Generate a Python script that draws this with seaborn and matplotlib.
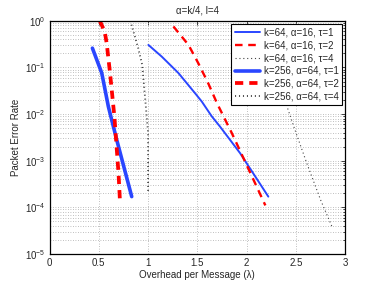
import matplotlib
matplotlib.use("Agg")
import matplotlib.pyplot as plt
import seaborn as sns
import numpy as np

sns.set_style("white")
plt.rcParams['font.family'] = ['Liberation Sans', 'DejaVu Sans']
plt.rcParams['mathtext.fontset'] = 'custom'
plt.rcParams['mathtext.rm'] = 'Liberation Sans'

labels = ["k=64, α=16, τ=1", "k=64, α=16, τ=2", "k=64, α=16, τ=4",
          "k=256, α=64, τ=1", "k=256, α=64, τ=2", "k=256, α=64, τ=4"]

# k=64 series
x64_t1 = [1.003, 1.139, 1.308, 1.477, 1.545, 1.647, 1.73, 1.934, 2.22]
y64_t1 = [3.05e-1, 1.71e-1, 7.6e-2, 2.8e-2, 1.86e-2, 8.9e-3, 5.4e-3, 1.45e-3, 1.7e-4]
x64_t2 = [1.257, 1.41, 1.51, 1.61, 1.70, 1.85, 1.985, 2.19]
y64_t2 = [7.6e-1, 3.05e-1, 1.23e-1, 4.6e-2, 1.7e-2, 3.9e-3, 9.5e-4, 1.1e-4]
x64_t4 = [2.22, 2.41, 2.49, 2.61, 2.75, 2.865]
y64_t4 = [2.0e-1, 1.45e-2, 4.6e-3, 8.9e-4, 1.45e-4, 3.9e-5]

# k=256 series
x256_t1 = [0.435, 0.53, 0.597, 0.682, 0.834]
y256_t1 = [2.6e-1, 7.6e-2, 1.45e-2, 2.8e-3, 1.7e-4]
x256_t2 = [0.51, 0.56, 0.58, 0.614, 0.658, 0.70, 0.716]
y256_t2 = [1.0e0, 5.9e-1, 3.3e-1, 7.6e-2, 8.9e-3, 5.4e-4, 1.2e-4]
x256_t4 = [0.82, 0.90, 0.94, 0.97, 1.00, 1.00]
y256_t4 = [1.0e0, 2.6e-1, 1.15e-1, 2.2e-2, 4.0e-3, 2.1e-4]

series = [
    (x64_t1, y64_t1, dict(color="#2a46ff", lw=1.4, ls="-")),
    (x64_t2, y64_t2, dict(color="#ff0000", lw=1.7, ls=(0, (3.2, 2.4)))),
    (x64_t4, y64_t4, dict(color="#444444", lw=0.8, ls=(0, (1, 2.5)))),
    (x256_t1, y256_t1, dict(color="#2a46ff", lw=2.6, ls="-")),
    (x256_t2, y256_t2, dict(color="#ff0000", lw=2.7, ls=(0, (2.2, 1.6)))),
    (x256_t4, y256_t4, dict(color="#444444", lw=1.3, ls=(0, (0.6, 1.6)))),
]

fig = plt.figure(figsize=(3.81, 2.86), dpi=100)
ax = fig.add_axes([0.130, 0.112, 0.776, 0.815])

for (xs, ys, st), lab in zip(series, labels):
    sns.lineplot(x=xs, y=ys, ax=ax, sort=False, estimator=None, label=lab,
                 color=st["color"], linewidth=st["lw"], linestyle=st["ls"])

ax.set_yscale("log")
ax.set_xlim(0, 3)
ax.set_ylim(1e-5, 1e0)
ax.set_xticks([0, 0.5, 1, 1.5, 2, 2.5, 3])
ax.set_xticklabels(["0", "0.5", "1", "1.5", "2", "2.5", "3"])
ax.grid(True, which="major", axis="both", color="#aaaaaa", linestyle=(0, (1, 2)), linewidth=0.6)
ax.grid(True, which="minor", axis="y", color="#aaaaaa", linestyle=(0, (1, 2)), linewidth=0.6)
ax.tick_params(axis="both", which="both", direction="in", labelsize=7, top=True, right=True,
               length=3, width=0.6, pad=3)
ax.tick_params(axis="both", which="minor", length=1.5)
for s in ax.spines.values():
    s.set_color("black")
    s.set_linewidth(0.9)

ax.set_xlabel("Overhead per Message (λ)", fontsize=7, labelpad=1)
ax.set_ylabel("Packet Error Rate", fontsize=7, labelpad=3)
ax.set_title("α=k/4, l=4", fontsize=7, pad=5)

leg = ax.legend(loc="upper right", fontsize=7, frameon=True, fancybox=False,
                edgecolor="black", framealpha=1, handlelength=2.6, handletextpad=0.4,
                borderpad=0.35, labelspacing=0.3, borderaxespad=0.3)
leg.get_frame().set_linewidth(0.8)

fig.savefig("out.png", dpi=100)
